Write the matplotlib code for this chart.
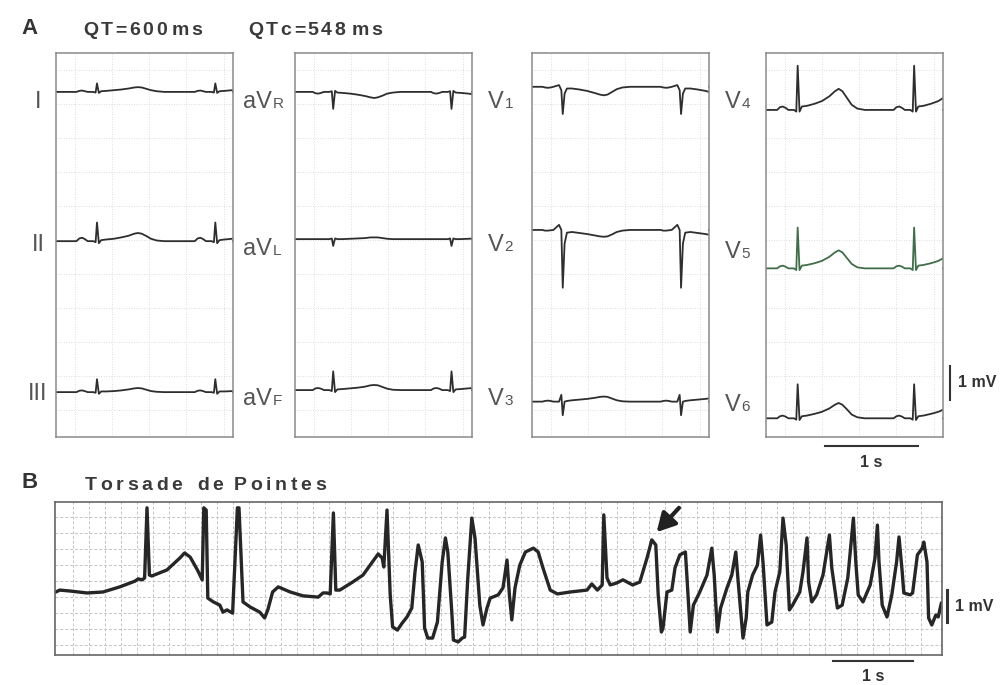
"""
plot.py - 12-lead ECG with long QT (panel A) and a torsade de pointes strip (panel B).
Saves out.png.
"""
import numpy as np
import matplotlib
matplotlib.use("Agg")
import matplotlib.pyplot as plt

W, H = 1002, 685
plt.rcParams["font.family"] = ["Liberation Sans", "DejaVu Sans"]

# ---- panel A: one beat described at shared knot times (s, relative to R) ----
KNOT_T = [-0.30, -0.22, -0.19, -0.16, -0.13, -0.10, -0.04, -0.015, 0.0, 0.02, 0.045,
          0.10, 0.18, 0.26, 0.34, 0.40, 0.44, 0.48, 0.53, 0.58, 0.64, 0.72]

AMP_I = [0, 0, 0.03, 0.04, 0.02, 0, 0, -0.02, 0.25, -0.03, 0.02,
         0.03, 0.05, 0.07, 0.10, 0.13, 0.14, 0.13, 0.09, 0.05, 0.02, 0]
AMP_II = [0, 0, 0.08, 0.10, 0.06, 0, 0, -0.03, 0.55, -0.06, 0.03,
          0.05, 0.07, 0.11, 0.16, 0.22, 0.24, 0.22, 0.15, 0.07, 0.02, 0]
AMP_III = [0, 0, 0.04, 0.05, 0.03, 0, 0, -0.02, 0.38, -0.05, 0.02,
           0.02, 0.03, 0.05, 0.08, 0.11, 0.12, 0.11, 0.07, 0.03, 0.01, 0]
AMP_AVR = [0, 0, -0.04, -0.05, -0.03, 0, 0, 0.02, -0.50, 0.03, -0.02,
           -0.03, -0.05, -0.08, -0.12, -0.16, -0.18, -0.16, -0.11, -0.05, -0.02, 0]
AMP_AVL = [0, 0, 0, 0, 0, 0, 0, 0.02, -0.20, 0.02, 0,
           0, 0.01, 0.02, 0.03, 0.05, 0.05, 0.05, 0.03, 0.01, 0, 0]
AMP_AVF = [0, 0, 0.05, 0.06, 0.04, 0, 0, -0.03, 0.55, -0.06, 0.02,
           0.03, 0.05, 0.07, 0.10, 0.14, 0.15, 0.14, 0.09, 0.04, 0.01, 0]
AMP_V1 = [0, 0, -0.02, -0.03, -0.02, 0, 0.05, -0.10, -0.80, -0.20, -0.05,
          -0.05, -0.08, -0.12, -0.18, -0.23, -0.25, -0.23, -0.15, -0.07, -0.02, 0]
AMP_V2 = [0, 0, -0.02, -0.02, -0.01, 0, 0.15, 0.0, -1.70, -0.40, -0.08,
          -0.06, -0.09, -0.12, -0.16, -0.19, -0.20, -0.19, -0.13, -0.06, -0.02, 0]
AMP_V3 = [0, 0, 0.02, 0.03, 0.02, 0, 0, 0.20, -0.40, 0.0, 0.02,
          0.04, 0.06, 0.08, 0.11, 0.14, 0.15, 0.14, 0.09, 0.04, 0.01, 0]
AMP_V4 = [0, 0, 0.08, 0.10, 0.06, 0, 0, -0.05, 1.30, -0.05, 0.10,
          0.12, 0.18, 0.26, 0.40, 0.55, 0.62, 0.55, 0.35, 0.15, 0.04, 0]
AMP_V5 = [0, 0, 0.06, 0.08, 0.05, 0, 0, -0.05, 1.20, -0.05, 0.08,
          0.10, 0.15, 0.22, 0.34, 0.47, 0.53, 0.47, 0.30, 0.13, 0.03, 0]
AMP_V6 = [0, 0, 0.06, 0.08, 0.05, 0, 0, -0.04, 1.00, -0.05, 0.06,
          0.08, 0.13, 0.19, 0.29, 0.40, 0.45, 0.40, 0.26, 0.11, 0.03, 0]

# R-peak times (s) in each of the four boxes
R_BOX1 = [0.44, 1.71]
R_BOX2 = [0.41, 1.68]
R_BOX3 = [0.33, 1.60]
R_BOX4 = [0.34, 1.59]

# lead labels (main part, subscript) per box, top to bottom
LABELS_BOX1 = [("I", ""), ("II", ""), ("III", "")]
LABELS_BOX2 = [("aV", "R"), ("aV", "L"), ("aV", "F")]
LABELS_BOX3 = [("V", "1"), ("V", "2"), ("V", "3")]
LABELS_BOX4 = [("V", "4"), ("V", "5"), ("V", "6")]

# ---- panel B: torsade de pointes strip, time (s) and amplitude (mV) ----
B_T = [0.01, 0.06, 0.19, 0.40, 0.60, 0.81, 1.00, 1.04, 1.09, 1.12, 1.15, 1.18, 1.21,
       1.40, 1.56, 1.62, 1.69, 1.78, 1.84, 1.86, 1.89, 1.91, 1.98, 2.06, 2.10, 2.15,
       2.22, 2.28, 2.30, 2.35, 2.44, 2.56, 2.62, 2.66, 2.72, 2.79, 2.94, 3.10, 3.29,
       3.35, 3.40, 3.44, 3.48, 3.51, 3.56, 3.72, 3.85, 4.04, 4.09, 4.11, 4.15, 4.19,
       4.22, 4.28, 4.34, 4.40, 4.46, 4.50, 4.54, 4.59, 4.62, 4.66, 4.72, 4.78, 4.84,
       4.88, 4.91, 4.96, 4.98, 5.04, 5.09, 5.12, 5.16, 5.21, 5.25, 5.31, 5.35, 5.40,
       5.44, 5.54, 5.60, 5.65, 5.68, 5.71, 5.75, 5.81, 5.88, 5.98, 6.04, 6.10, 6.19,
       6.28, 6.44, 6.65, 6.71, 6.78, 6.84, 6.86, 6.90, 6.94, 7.02, 7.10, 7.22, 7.31,
       7.40, 7.46, 7.51, 7.54, 7.58, 7.60, 7.65, 7.71, 7.75, 7.81, 7.88, 7.90, 7.94,
       7.98, 8.06, 8.15, 8.21, 8.24, 8.28, 8.32, 8.40, 8.46, 8.51, 8.54, 8.60, 8.64,
       8.66, 8.72, 8.78, 8.82, 8.85, 8.90, 8.96, 9.00, 9.06, 9.10, 9.14, 9.18, 9.22,
       9.31, 9.35, 9.40, 9.42, 9.46, 9.52, 9.60, 9.68, 9.71, 9.78, 9.84, 9.91, 9.98,
       10.01, 10.04, 10.10, 10.19, 10.25, 10.28, 10.30, 10.34, 10.40, 10.46, 10.52,
       10.55, 10.59, 10.61, 10.69, 10.72, 10.78, 10.84, 10.86, 10.90, 10.92, 10.96,
       11.01, 11.04, 11.08]
B_V = [0.25, 0.31, 0.28, 0.22, 0.25, 0.41, 0.59, 0.66, 0.63, 0.69, 2.88, 0.78, 0.75,
       0.94, 1.31, 1.47, 1.34, 0.94, 0.63, 2.88, 2.81, 0.06, -0.06, -0.16, -0.38, -0.31,
       -0.41, 2.88, 2.88, -0.06, -0.22, -0.38, -0.56, -0.31, 0.25, 0.41, 0.25, 0.13, 0.09,
       0.22, 0.22, 0.19, 2.72, 0.31, 0.31, 0.56, 0.78, 1.44, 1.31, 1.03, 2.81, 0.16,
       -0.84, -0.94, -0.72, -0.53, -0.25, 0.88, 1.72, 1.19, -0.88, -1.19, -1.19, -0.69, 1.19,
       1.94, 1.50, -0.38, -1.25, -1.31, -1.19, -1.16, 0.69, 2.56, 1.94, -0.16, -0.78, -0.25,
       0.06, 0.16, 0.38, 1.25, 0.16, -0.62, 0.38, 1.09, 1.50, 1.62, 1.50, 1.00, 0.31,
       0.19, 0.25, 0.31, 0.50, 0.31, 0.47, 2.66, 0.69, 0.47, 0.53, 0.63, 0.47, 0.56,
       1.31, 1.88, 1.72, 0.16, -1.00, -0.88, 0.25, 0.31, 1.00, 1.41, 1.50, 0.69, -1.00,
       -0.16, 0.25, 0.78, 1.62, 0.78, -1.00, -0.25, 0.38, 0.78, 1.50, 0.56, -1.19, -0.56,
       0.25, 0.78, 1.09, 2.03, 1.19, -0.78, -0.69, 0.25, 0.88, 2.56, 1.72, -0.31, -0.16,
       0.25, 0.88, 1.94, 0.56, -0.06, 0.16, 0.78, 2.03, 1.00, -0.25, -0.16, 0.69, 2.56,
       1.19, 0.16, -0.06, 0.47, 1.31, 2.34, 1.19, -0.16, -0.53, 0.16, 1.19,
       1.97, 0.88, 0.22, 0.16, 0.22, 1.41, 1.62, 1.81, 1.19, -0.56, -0.78,
       -0.47, -0.53, -0.09]


def rect(x0, y0, x1, y1):
    """figure-fraction rectangle from pixel box"""
    return [x0 / W, 1 - y1 / H, (x1 - x0) / W, (y1 - y0) / H]


def beat_trace(r_times, amps, t_end):
    xs, ys = [0.0], [0.0]
    for r in r_times:
        xs.extend(r + t for t in KNOT_T)
        ys.extend(amps)
    xs.append(t_end)
    ys.append(0.0)
    return np.array(xs), np.array(ys)


fig = plt.figure(figsize=(W / 100, H / 100), dpi=100)
fig.patch.set_facecolor("white")
renderer = fig.canvas.get_renderer()


def spaced(x_px, base_px, s, track, **kw):
    """draw a word letter by letter with extra tracking (pixels)"""
    x = x_px
    for ch in s:
        t = fig.text(x / W, 1 - base_px / H, ch, ha="left", va="baseline", **kw)
        x = t.get_window_extent(renderer=renderer).x1 + track


TRACE = "#2e2e2e"
BOX = "#8a8a8a"
LABEL = "#555555"
INK = "#333333"

# panel A boxes
A_TOP, A_BOT = 53, 437
SEC_A, MV_A = 1.90, (A_BOT - A_TOP) / 34.0
OFFSETS = [[10.15, 5.76, 1.32], [10.15, 5.82, 1.38], [10.30, 6.09, 1.04], [9.62, 4.96, 0.55]]
LABEL_Y = [[100, 243, 392], [100, 247, 397], [100, 243, 397], [100, 250, 403]]
boxes = [
    (56, R_BOX1, [AMP_I, AMP_II, AMP_III], LABELS_BOX1, 38, "center"),
    (295, R_BOX2, [AMP_AVR, AMP_AVL, AMP_AVF], LABELS_BOX2, 243, "left"),
    (532, R_BOX3, [AMP_V1, AMP_V2, AMP_V3], LABELS_BOX3, 488, "left"),
    (766, R_BOX4, [AMP_V4, AMP_V5, AMP_V6], LABELS_BOX4, 725, "left"),
]

axes_a = []
for (x0, rts, amps, labels, lx, ha), offs, lys in zip(boxes, OFFSETS, LABEL_Y):
    ax = fig.add_axes(rect(x0, A_TOP, x0 + 177, A_BOT))
    ax.set_xlim(0, SEC_A)
    ax.set_ylim(0, MV_A)
    for x in np.arange(0.2, SEC_A, 0.4):
        ax.axvline(x, color="#d4d4d4", lw=0.6, ls=(0, (1, 2)), zorder=0)
    for y in np.arange(0.8, MV_A, 1.0):
        ax.axhline(y, color="#d4d4d4", lw=0.6, ls=(0, (1, 2)), zorder=0)
    for a, off, ly, (main, sub) in zip(amps, offs, lys, labels):
        xs, ys = beat_trace(rts, a, SEC_A)
        color = "#3f6e48" if sub == "5" else TRACE
        ax.plot(xs, ys + off, color=color, lw=1.3, solid_joinstyle="round")
        base = 1 - (ly + 8) / H
        t = fig.text(lx / W, base, main, fontsize=17, color=LABEL, ha=ha, va="baseline")
        if sub:
            bb = t.get_window_extent(renderer=renderer)
            fig.text((bb.x1 + 1) / W, base, sub, fontsize=11, color=LABEL,
                     ha="left", va="baseline")
    ax.set_xticks([])
    ax.set_yticks([])
    for s in ax.spines.values():
        s.set_color(BOX)
        s.set_linewidth(1.1)
    axes_a.append(ax)

# scale bars for panel A (in data units of the last box)
ax4 = axes_a[-1]
ax4.plot([1.98, 1.98], [1.09, 2.09], color=INK, lw=1.5, clip_on=False)
ax4.text(2.06, 1.59, "1 mV", fontsize=11.5, fontweight="bold", color=INK,
         ha="left", va="center", clip_on=False)
ax4.plot([0.63, 1.63], [-0.26, -0.26], color=INK, lw=1.5, clip_on=False)
ax4.text(1.13, -0.74, "1 s", fontsize=11.5, fontweight="bold", color=INK,
         ha="center", va="center", clip_on=False)

# headings
fig.text(30 / W, 1 - 28 / H, "A", fontsize=16, fontweight="bold", color=INK,
         ha="center", va="center")
spaced(83, 35, "QT=600", 2.6, fontsize=14, fontweight="bold", color="#3a3a3a")
spaced(172, 35, "ms", 1.5, fontsize=14, fontweight="bold", color="#3a3a3a")
spaced(248, 35, "QTc=548", 2.6, fontsize=14, fontweight="bold", color="#3a3a3a")
spaced(352, 35, "ms", 1.5, fontsize=14, fontweight="bold", color="#3a3a3a")
fig.text(30 / W, 1 - 483 / H, "B", fontsize=16, fontweight="bold", color=INK,
         ha="center", va="center")
for word, wx in [("Torsade", 85), ("de", 197), ("Pointes", 234)]:
    spaced(wx, 490, word, 3.6, fontsize=14, fontweight="bold", color="#3a3a3a")

# ---- panel B ----
axb = fig.add_axes(rect(55, 502, 942, 655))
axb.set_xlim(0, 887 / 80)
axb.set_ylim((600 - 655) / 32, (600 - 502) / 32)
for x in np.arange(0.22, 11.0, 0.2):
    axb.axvline(x, color="#c4c4c4", lw=0.7, ls=(0, (3, 2)), zorder=0)
for y in np.arange(-1.4, 3.0, 0.5):
    axb.axhline(y, color="#c4c4c4", lw=0.7, ls=(0, (3, 2)), zorder=0)
axb.plot(B_T, B_V, color="#262626", lw=2.4, solid_joinstyle="round",
         solid_capstyle="round")
axb.set_xticks([])
axb.set_yticks([])
for s in axb.spines.values():
    s.set_color("#666666")
    s.set_linewidth(1.2)

axb.annotate("", xy=(7.52, 2.12), xytext=(7.80, 2.88),
             arrowprops=dict(arrowstyle="-|>,head_length=1.1,head_width=0.6",
                             color="#222222", lw=3.0, shrinkA=0, shrinkB=0))

axb.plot([11.15, 11.15], [-0.69, 0.31], color=INK, lw=2.2, clip_on=False)
axb.text(11.25, -0.19, "1 mV", fontsize=11.5, fontweight="bold", color=INK,
         ha="left", va="center", clip_on=False)
axb.plot([9.73, 10.73], [-1.91, -1.91], color=INK, lw=1.5, clip_on=False)
axb.text(10.23, -2.40, "1 s", fontsize=11.5, fontweight="bold", color=INK,
         ha="center", va="center", clip_on=False)

fig.savefig("out.png", dpi=100, facecolor="white")
